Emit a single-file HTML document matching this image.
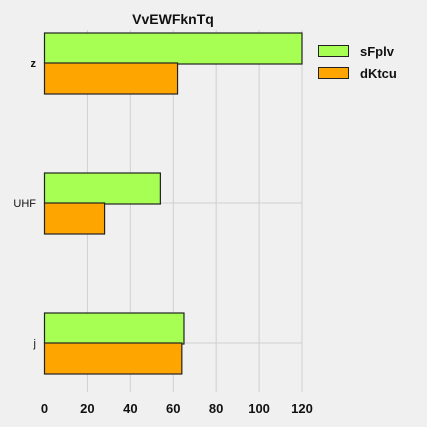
<!DOCTYPE html>
<html><head><meta charset="utf-8"><style>
body{margin:0;background:#f0f0f0;}
svg{display:block;font-family:"Liberation Sans",sans-serif;}
</style></head><body>
<svg id="c" width="427" height="427"></svg>
<script>
const categories=["z","UHF","j"];
const seriesNames=["sFplv","dKtcu"];
const sFplv=[120,54,65];
const dKtcu=[62,28,64];
const ticks=[0,20,40,60,80,100,120];
const colors=["#a6ff52","#ffa500"];
const ns="http://www.w3.org/2000/svg";
const svg=document.getElementById('c');
const x0=44.5,x1=302,xmax=120;
const X=v=>x0+(x1-x0)*v/xmax;
const Y=i=>63+140*i;
const bh=31;
function mk(t,a,p){const e=document.createElementNS(ns,t);for(const k in a)e.setAttribute(k,a[k]);(p||svg).appendChild(e);return e;}
ticks.forEach(t=>{
 if(t>0){const l=mk('line',{x1:X(t),x2:X(t),y1:30,y2:392,stroke:'#d0d0d0','stroke-width':1});
 
 }
 const tx=mk('text',{x:X(t),y:413,'text-anchor':'middle','font-size':13,'font-weight':'bold',fill:'#111'});
 tx.textContent=t;
 
 
});
categories.forEach((c,i)=>{
 const l=mk('line',{x1:x0,x2:x1,y1:Y(i),y2:Y(i),stroke:'#d0d0d0','stroke-width':1});
 
 
 const t=mk('text',{x:36,y:Y(i)+4,'text-anchor':'end','font-size':11,fill:'#111','font-weight':c==='z'?'bold':'normal'});
 t.textContent=c;
 
 
});
[sFplv,dKtcu].forEach((s,k)=>{
 s.forEach((v,i)=>{
  const y=k===0?Y(i)-bh+1:Y(i);
  const r=mk('rect',{x:x0,y:y,width:X(v)-x0,height:bh,fill:colors[k],stroke:'#222','stroke-width':1.2});
  
  
 });
});
const title=mk('text',{x:173,y:24,'text-anchor':'middle','font-size':14,'font-weight':'bold',fill:'#111'});
title.textContent="VvEWFknTq";


seriesNames.forEach((n,k)=>{
 const r=mk('rect',{x:318.5,y:45.5+22*k,width:30,height:11,fill:colors[k],stroke:'#222','stroke-width':1});
 
 
 const t=mk('text',{x:360,y:56+22*k,'font-size':13,'font-weight':'bold',fill:'#111'});
 t.textContent=n;
 
 
});
</script>
</body></html>
